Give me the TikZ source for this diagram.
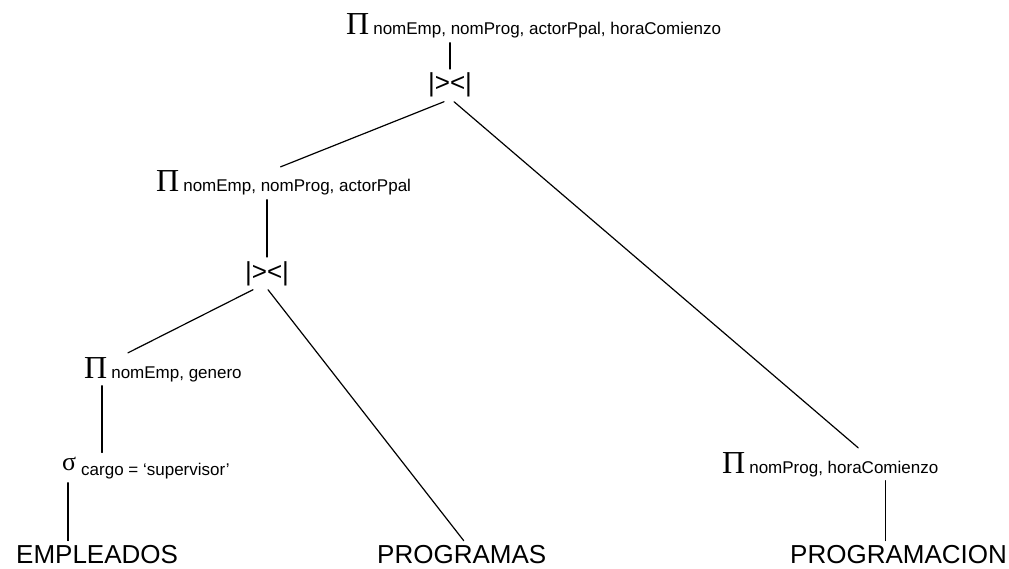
\documentclass[tikz,border=0pt]{standalone}
\usepackage{fontspec}
\setmainfont{Liberation Sans}
\newfontfamily\grfont{Liberation Serif}
\newcommand{\proj}[1]{{\grfont\fontsize{32}{32}\selectfont Π}\hspace{4pt}{\fontsize{17}{20}\selectfont #1}}
\newcommand{\selec}[1]{{\grfont\fontsize{26}{26}\selectfont σ}\hspace{5pt}\raisebox{-5pt}{\fontsize{17}{20}\selectfont #1}}

\begin{document}
\begin{tikzpicture}[x=1pt,y=-1pt,line cap=round,line join=round,
  op/.style={inner sep=4pt,anchor=base west},
  jn/.style={inner sep=4pt,anchor=base,font=\fontsize{26}{26}\selectfont},
  rel/.style={inner sep=4pt,anchor=base west,font=\fontsize{26}{26}\selectfont}]
\useasboundingbox (0,0) rectangle (1009,569);

\node [op] (pitop) at (342,35) {\proj{nomEmp, nomProg, actorPpal, horaComienzo}};
\node [jn] (join1) at (450,92) {|><|};

\node [op] (pimid) at (152,192) {\proj{nomEmp, nomProg, actorPpal}};
\node [jn] (join2) at (267,280) {|><|};

\node [op] (pigen) at (80,378) {\proj{nomEmp, genero}};
\node [op] (sigma) at (58,470) {\selec{cargo = ‘supervisor’}};
\node [op] (piprog) at (718,473) {\proj{nomProg, horaComienzo}};

\node [rel] (empleados) at (12,563) {EMPLEADOS};
\node [rel] (programas) at (373,563) {PROGRAMAS};
\node [rel] (programacion) at (786,563) {PROGRAMACION};

\draw [line width=1.2pt] (pitop.south -| join1.north) -- (join1.north);
\draw [line width=1.2pt] ([xshift=-6pt]join1.south) -- ([xshift=-3pt]pimid.north);
\draw [line width=1.2pt] ([xshift=4pt]join1.south) -- ([xshift=28pt]piprog.north);

\draw [line width=1.2pt] (pimid.south -| join2.north) -- (join2.north);
\draw [line width=1.2pt] ([xshift=-14pt]join2.south) -- ([xshift=-35pt]pigen.north);
\draw [line width=1.2pt] ([xshift=1pt]join2.south) -- ([xshift=2pt]programas.north);

\draw [line width=1.2pt] ([xshift=-44pt]sigma.north |- pigen.south) -- ([xshift=-44pt]sigma.north);
\draw [line width=1.2pt] ([xshift=-78pt]sigma.south) -- ([xshift=-78pt]sigma.south |- empleados.north);
\draw [line width=1.2pt] ([xshift=55pt]piprog.south) -- ([xshift=55pt]piprog.south |- programacion.north);
\end{tikzpicture}
\end{document}
